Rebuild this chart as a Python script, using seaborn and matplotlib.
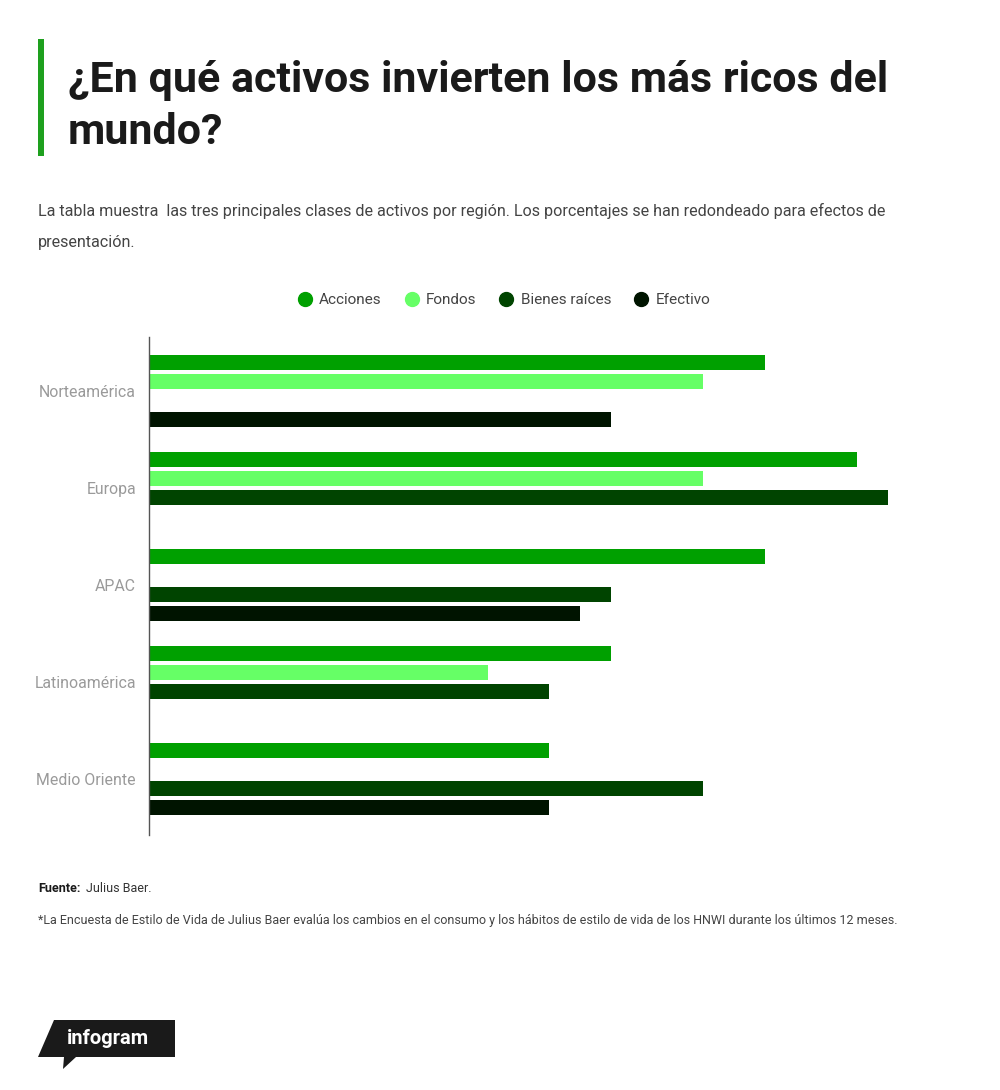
import numpy as np
import pandas as pd
import matplotlib.pyplot as plt
import seaborn as sns
from matplotlib.lines import Line2D
from matplotlib.patches import Polygon, Rectangle

# data (percent, rounded) - NaN where the class is not in a region's top three
regions = ['Norteamérica', 'Europa', 'APAC', 'Latinoamérica', 'Medio Oriente']
assets = ['Acciones', 'Fondos', 'Bienes raíces', 'Efectivo']
acciones = [20, 23, 20, 15, 13]
fondos = [18, 18, np.nan, 11, np.nan]
bienes = [np.nan, 24, 15, 13, 18]
efectivo = [15, np.nan, 14, np.nan, 13]
colors = ['#00a000', '#66ff66', '#004400', '#001400']

rows = []
for name, vals in zip(assets, [acciones, fondos, bienes, efectivo]):
    for reg, v in zip(regions, vals):
        rows.append({'region': reg, 'asset': name, 'value': v})
df = pd.DataFrame(rows)

sns.set_theme(style='white')
plt.rcParams['font.family'] = ['Roboto', 'DejaVu Sans']

W, H = 1000, 1090
fig = plt.figure(figsize=(W / 100, H / 100), dpi=100)
fig.patch.set_facecolor('white')

ax = fig.add_axes([149 / W, 1 - 835 / H, 751 / W, 498 / H])
sns.barplot(data=df, y='region', x='value', hue='asset', order=regions,
            hue_order=assets, palette=colors, saturation=1, orient='h',
            width=0.784, gap=0.21, linewidth=0, legend=False, ax=ax)
ax.set_xlim(0, 751 / 30.8)
ax.set_ylim(4.58, -0.56)
ax.set_xlabel('')
ax.set_ylabel('')
ax.set_xticks([])
for s in ['top', 'right', 'bottom']:
    ax.spines[s].set_visible(False)
ax.spines['left'].set_color('#555555')
ax.spines['left'].set_linewidth(1)
ax.tick_params(axis='y', length=0, pad=9.4, labelsize=11.4, labelcolor='#9a9a9a')

# header
fig.add_artist(Rectangle((38 / W, 1 - 156 / H), 5.5 / W, 117 / H,
                         transform=fig.transFigure, color='#1ea01e', lw=0))
fig.text(68 / W, 1 - 92 / H, '¿En qué activos invierten los más ricos del',
         fontsize=31, fontweight='bold', color='#1a1a1a', va='baseline')
fig.text(68 / W, 1 - 144 / H, 'mundo?',
         fontsize=31, fontweight='bold', color='#1a1a1a', va='baseline')
fig.text(38 / W, 1 - 216 / H,
         'La tabla muestra  las tres principales clases de activos por región. '
         'Los porcentajes se han redondeado para efectos de',
         fontsize=11.6, color='#444444', va='baseline')
fig.text(38 / W, 1 - 247 / H, 'presentación.',
         fontsize=11.6, color='#444444', va='baseline')

# legend
handles = [Line2D([], [], marker='o', ls='', markersize=10, color=c) for c in colors]
fig.legend(handles, assets, loc='center', bbox_to_anchor=(0.503, 1 - 300 / H),
           ncol=4, frameon=False, fontsize=11, handletextpad=0.35,
           handlelength=1.2, columnspacing=1.35, labelcolor='#444444')

# footer
fig.text(38 / W, 1 - 892 / H, 'Fuente:', fontsize=9, fontweight='bold',
         color='#1a1a1a', va='baseline')
fig.text(86 / W, 1 - 892 / H, 'Julius Baer.', fontsize=9, color='#333333',
         va='baseline')
fig.text(38 / W, 1 - 924 / H,
         '*La Encuesta de Estilo de Vida de Julius Baer evalúa los cambios en el '
         'consumo y los hábitos de estilo de vida de los HNWI durante los últimos 12 meses.',
         fontsize=9, color='#444444', va='baseline')

# infogram badge
pts = [(38, 1057), (54, 1020), (175, 1020), (175, 1057), (76, 1057),
       (63, 1069), (64, 1057)]
fig.add_artist(Polygon([(x / W, 1 - y / H) for x, y in pts], closed=True,
                       transform=fig.transFigure, color='#1a1a1a', lw=0))
fig.text(108 / W, 1 - 1039 / H, 'infogram', fontsize=14.5, fontweight='bold',
         color='white', ha='center', va='center')

fig.savefig('out.png', dpi=100, facecolor='white')
